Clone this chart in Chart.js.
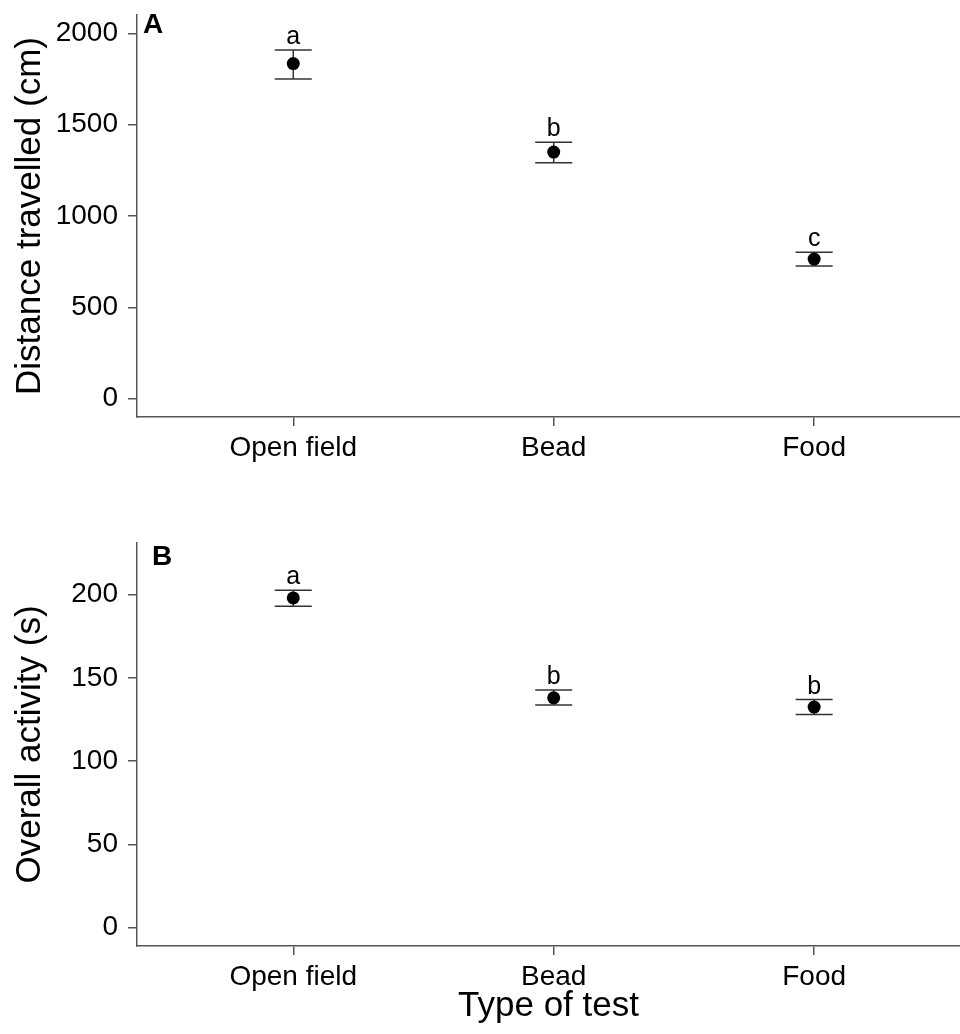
<!DOCTYPE html>
<html>
<head>
<meta charset="utf-8">
<script src="https://cdn.jsdelivr.net/npm/chart.js@4/dist/chart.umd.min.js"></script>
<style>
  html, body { margin: 0; background: #fff; overflow: hidden; }
  canvas { display: block; }
</style>
</head>
<body>
<canvas id="chartA" width="960" height="480"></canvas>
<canvas id="chartB" width="960" height="554"></canvas>
<script>
// Datos
const categories = ["Open field", "Bead", "Food"];

const distMean = [1834, 1350, 764];
const distLower = [1750, 1292, 726];
const distUpper = [1908, 1403, 802];
const distLetters = ["a", "b", "c"];
const distTicks = [0, 500, 1000, 1500, 2000];

const actMean = [198, 138, 132.5];
const actLower = [193, 133.7, 128];
const actUpper = [202.6, 142.7, 137];
const actLetters = ["a", "b", "b"];
const actTicks = [0, 50, 100, 150, 200];

const FONT = "'Liberation Sans', Arial, sans-serif";
const AXIS_COLOR = "#555";

// Letras de significancia y etiqueta del panel
const annotations = {
    id: "annotations",
    afterDatasetsDraw(chart, args, opts) {
        const ctx = chart.ctx;
        const xs = chart.scales.x;
        const ys = chart.scales.y;
        ctx.save();
        ctx.fillStyle = "#000";
        ctx.textAlign = "center";
        ctx.textBaseline = "alphabetic";
        ctx.font = "25px " + FONT;
        opts.letters.forEach((l, i) => {
            ctx.fillText(l, xs.getPixelForValue(i + 1), ys.getPixelForValue(opts.upper[i]) - 6);
        });
        ctx.textAlign = "left";
        ctx.font = "bold 28px " + FONT;
        ctx.fillText(opts.panel, chart.chartArea.left + opts.panelDx, chart.chartArea.top + opts.panelDy);
        ctx.restore();
    }
};

function makePanel(canvasId, cfg) {
    // una serie por categoría: línea vertical + topes horizontales
    const errorSets = categories.map((c, i) => ({
        data: [{ x: i + 1, y: cfg.lower[i] }, { x: i + 1, y: cfg.upper[i] }],
        showLine: true,
        borderColor: "#333",
        borderWidth: 1.5,
        pointStyle: "line",
        pointRadius: 18.5,
        pointBorderWidth: 1.5,
        pointBorderColor: "#333"
    }));

    const meanSet = {
        data: cfg.mean.map((v, i) => ({ x: i + 1, y: v })),
        pointRadius: 6.5,
        pointBackgroundColor: "#000",
        pointBorderColor: "#000",
        pointBorderWidth: 0
    };

    return new Chart(document.getElementById(canvasId), {
        type: "scatter",
        data: { datasets: [meanSet, ...errorSets] },
        plugins: [annotations],
        options: {
            responsive: false,
            animation: false,
            events: [],
            layout: { autoPadding: false, padding: { top: cfg.padTop, left: 0, right: 0, bottom: 0 } },
            plugins: {
                legend: { display: false },
                tooltip: { enabled: false },
                annotations: {
                    letters: cfg.letters,
                    upper: cfg.upper,
                    panel: cfg.panel,
                    panelDx: cfg.panelDx,
                    panelDy: cfg.panelDy
                }
            },
            scales: {
                x: {
                    type: "linear",
                    min: 0.4,
                    max: 3.56,
                    afterBuildTicks: s => { s.ticks = categories.map((c, i) => ({ value: i + 1 })); },
                    afterFit: s => {
                        s.height = cfg.xHeight;
                        s.paddingLeft = 0;
                        s.paddingRight = 0;
                    },
                    ticks: {
                        callback: v => categories[v - 1],
                        color: "#000",
                        font: { family: FONT, size: 28 },
                        padding: 5,
                        maxRotation: 0
                    },
                    grid: { drawOnChartArea: false, drawTicks: true, tickLength: 9, color: AXIS_COLOR, lineWidth: 1.5 },
                    border: { display: true, color: AXIS_COLOR, width: 1.5 },
                    title: {
                        display: !!cfg.xTitle,
                        text: cfg.xTitle || "",
                        color: "#000",
                        font: { family: FONT, size: 35 },
                        padding: { top: 0, bottom: 7 }
                    }
                },
                y: {
                    min: cfg.yMin,
                    max: cfg.yMax,
                    afterBuildTicks: s => { s.ticks = cfg.ticks.map(v => ({ value: v })); },
                    afterFit: s => {
                        s.width = 137;
                        s.paddingTop = 0;
                        s.paddingBottom = 0;
                    },
                    ticks: {
                        callback: v => String(v),
                        color: "#000",
                        font: { family: FONT, size: 28 },
                        padding: 10
                    },
                    grid: { drawOnChartArea: false, drawTicks: true, tickLength: 9, color: AXIS_COLOR, lineWidth: 1.5 },
                    border: { display: true, color: AXIS_COLOR, width: 1.5 },
                    title: {
                        display: true,
                        text: cfg.yTitle,
                        color: "#000",
                        font: { family: FONT, size: 35 },
                        padding: { top: 9, bottom: 0 }
                    }
                }
            }
        }
    });
}

makePanel("chartA", {
    mean: distMean, lower: distLower, upper: distUpper, letters: distLetters,
    ticks: distTicks, yMin: -100, yMax: 2100,
    yTitle: "Distance travelled (cm)",
    panel: "A", panelDx: 6, panelDy: 18,
    padTop: 15, xHeight: 63
});

makePanel("chartB", {
    mean: actMean, lower: actLower, upper: actUpper, letters: actLetters,
    ticks: actTicks, yMin: -11, yMax: 231,
    yTitle: "Overall activity (s)",
    xTitle: "Type of test",
    panel: "B", panelDx: 15, panelDy: 22,
    padTop: 63, xHeight: 88
});
</script>
</body>
</html>
